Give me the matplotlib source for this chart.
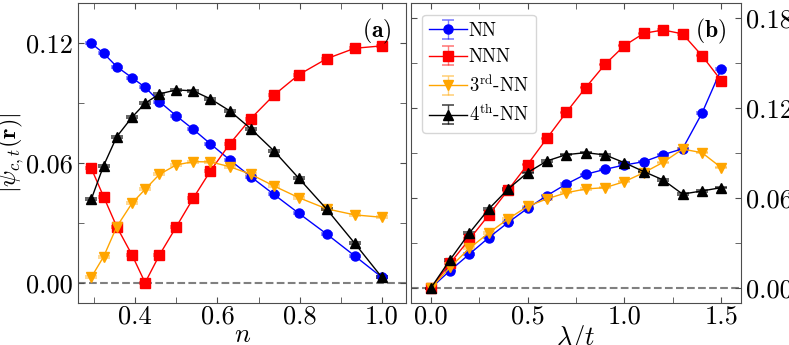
import matplotlib
matplotlib.use("Agg")
import matplotlib.pyplot as plt
from matplotlib.ticker import MultipleLocator, FormatStrFormatter

plt.rcParams['font.family'] = 'serif'
plt.rcParams['font.serif'] = ['cmr10']
plt.rcParams['mathtext.fontset'] = 'cm'
plt.rcParams['axes.formatter.use_mathtext'] = True

# panel (a): vs filling n
n = [0.293, 0.323, 0.355, 0.392, 0.424, 0.459, 0.5, 0.541, 0.583, 0.63,
     0.681, 0.737, 0.798, 0.866, 0.934, 1.0]
a_nn = [0.12, 0.115, 0.1083, 0.1028, 0.098, 0.0908, 0.0837, 0.077, 0.0697,
        0.0617, 0.0533, 0.0445, 0.035, 0.0246, 0.0137, 0.003]
a_nnn = [0.0575, 0.0433, 0.0283, 0.0142, 0.0003, 0.0142, 0.0283, 0.0425,
         0.0562, 0.0697, 0.0823, 0.094, 0.1043, 0.1123, 0.1175, 0.1187]
a_3nn = [0.003, 0.0133, 0.0283, 0.04, 0.047, 0.0545, 0.0592, 0.0608, 0.0607,
         0.0583, 0.0545, 0.0487, 0.0428, 0.0372, 0.0342, 0.033]
a_4nn = [0.042, 0.0588, 0.0733, 0.083, 0.09, 0.0947, 0.0967, 0.0962, 0.0922,
         0.0862, 0.0773, 0.0663, 0.0525, 0.037, 0.02, 0.003]

# panel (b): vs lambda/t
lam = [0.0, 0.1, 0.2, 0.3, 0.4, 0.5, 0.6, 0.7, 0.8, 0.9, 1.0, 1.1, 1.2, 1.3,
       1.4, 1.5]
b_nn = [0, 0.0118, 0.0228, 0.0338, 0.0439, 0.0533, 0.0618, 0.0695, 0.076,
        0.0793, 0.0822, 0.0844, 0.0891, 0.093, 0.1167, 0.1462]
b_nnn = [0, 0.0167, 0.0327, 0.0489, 0.0656, 0.0825, 0.1, 0.1173, 0.1338,
         0.1493, 0.1618, 0.17, 0.1722, 0.1696, 0.1551, 0.1384]
b_3nn = [0, 0.014, 0.0267, 0.0369, 0.0463, 0.0546, 0.0596, 0.0637, 0.0662,
         0.0671, 0.0711, 0.0771, 0.084, 0.0928, 0.0904, 0.0804]
b_4nn = [0, 0.019, 0.0369, 0.0529, 0.0662, 0.0771, 0.0849, 0.0891, 0.0904,
         0.0889, 0.0837, 0.0778, 0.0722, 0.0628, 0.0649, 0.0671]

err = 0.0005
labels = ['NN', 'NNN', r'3$^{\rm rd}$-NN', r'4$^{\rm th}$-NN']
colors = ['blue', 'red', 'orange', 'black']
ecolors = [(0, 0, 1, 0.5), (1, 0, 0, 0.5), (1, 0.65, 0, 0.5), (0, 0, 0, 0.7)]
markers = ['o', 's', 'v', '^']

fig = plt.figure(figsize=(7.89, 3.45), dpi=100)
ax1 = fig.add_axes([0.0985, 0.1209, 0.4167, 0.8696])
ax2 = fig.add_axes([0.5203, 0.1209, 0.4185, 0.8696])

for ax, x, ys in [(ax1, n, [a_nn, a_nnn, a_3nn, a_4nn]),
                  (ax2, lam, [b_nn, b_nnn, b_3nn, b_4nn])]:
    ax.axhline(0, color='gray', ls='--', lw=1.5, zorder=0)
    for y, lab, c, ec, m in zip(ys, labels, colors, ecolors, markers):
        ax.errorbar(x, y, yerr=err, color=c, ecolor=ec, marker=m, ms=6.5,
                    lw=1, capsize=4, capthick=1.2, label=lab)
    ax.tick_params(which='both', direction='in', top=True, right=True,
                   length=4, labelsize=19, color='0.3')
    ax.tick_params(axis='x', pad=1)
    for s in ax.spines.values():
        s.set_color('0.3')
    ax.yaxis.set_major_locator(MultipleLocator(0.06))
    ax.yaxis.set_minor_locator(MultipleLocator(0.03))
    ax.yaxis.set_major_formatter(FormatStrFormatter('%.2f'))

ax1.set_xlim(0.26, 1.06)
ax1.set_ylim(-0.01, 0.14)
ax1.xaxis.set_major_locator(MultipleLocator(0.2))
ax1.xaxis.set_minor_locator(MultipleLocator(0.1))
ax1.xaxis.set_major_formatter(FormatStrFormatter('%.1f'))
ax1.set_xlabel(r'$n$', fontsize=19)
ax1.xaxis.set_label_coords(0.5, -0.065)
ax1.set_ylabel(r'$|\psi_{c,t}(\mathbf{r})|$', fontsize=17.5)
ax1.yaxis.set_label_coords(-0.158, 0.5)
ax1.text(0.955, 0.955, r'$(\mathbf{a})$', transform=ax1.transAxes,
         ha='right', va='top', fontsize=17)

ax2.set_xlim(-0.104, 1.6)
ax2.set_ylim(-0.01, 0.19)
ax2.xaxis.set_major_locator(MultipleLocator(0.5))
ax2.xaxis.set_minor_locator(MultipleLocator(0.25))
ax2.xaxis.set_major_formatter(FormatStrFormatter('%.1f'))
ax2.yaxis.tick_right()
ax2.tick_params(which='both', left=True, right=True, labelleft=False,
                labelright=True)
ax2.set_xlabel(r'$\lambda/t$', fontsize=19)
ax2.xaxis.set_label_coords(0.5, -0.065)
ax2.text(0.955, 0.955, r'$(\mathbf{b})$', transform=ax2.transAxes,
         ha='right', va='top', fontsize=17)
ax2.legend(loc='upper left', fontsize=13.5, handlelength=2.0,
           handletextpad=0.1, labelspacing=0.45, borderpad=0.4,
           borderaxespad=0.6)

fig.savefig('out.png', dpi=100)
